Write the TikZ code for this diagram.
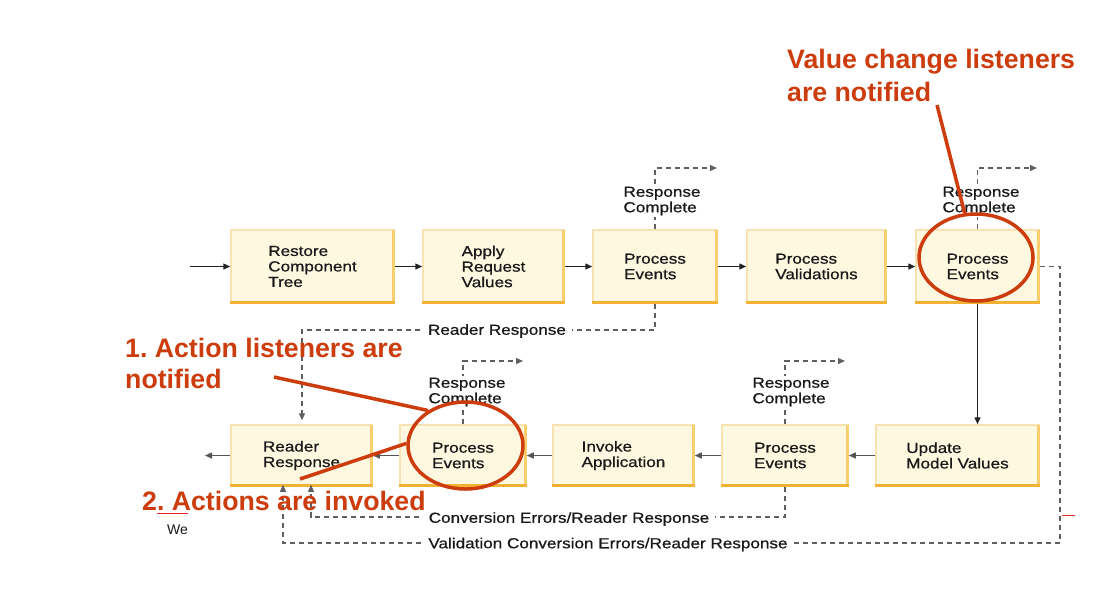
\documentclass[tikz,border=0pt]{standalone}
\usepackage{fontspec}
\setmainfont{Liberation Sans}[FakeStretch=1.18,FakeBold=0.7]
\newfontfamily\annotfont{Liberation Sans}
\frenchspacing
\usetikzlibrary{arrows.meta,shapes.geometric}
\definecolor{boxfill}{RGB}{255,248,225}
\definecolor{boxedge}{RGB}{246,226,178}
\definecolor{boxorange}{RGB}{242,178,51}
\definecolor{boxright}{RGB}{247,207,110}
\definecolor{inkc}{RGB}{25,25,25}
\definecolor{flowc}{RGB}{35,35,35}
\definecolor{flowgray}{RGB}{85,85,85}
\definecolor{dashc}{RGB}{95,95,95}
\definecolor{redc}{RGB}{204,60,12}
\definecolor{spellred}{RGB}{225,40,40}
\newcommand\phasefont{\fontsize{14.5}{15.5}\selectfont}
\newcommand\notefont{\annotfont\bfseries\fontsize{26.7}{32}\selectfont}
\tikzset{
  phase/.style={draw=boxedge, line width=1.5pt, fill=boxfill, inner sep=0pt,
    align=left, font=\phasefont, text=inkc},
  flow/.style={draw=flowc, line width=1.3pt, -{Triangle[length=7pt,width=6pt]}},
  flowb/.style={draw=flowgray, line width=1.3pt, -{Triangle[length=7pt,width=6pt]}},
  dline/.style={draw=dashc, line width=1.3pt, dash pattern=on 5pt off 4pt,
    -{Triangle[length=7pt,width=6pt]}},
  dlabel/.style={fill=white, inner sep=2pt, align=left, font=\phasefont, text=inkc},
  note/.style={anchor=base west, inner sep=0pt, font=\notefont, text=redc},
  ring/.style={draw=redc, line width=3.5pt, ellipse, inner sep=0pt},
  pointer/.style={draw=redc, line width=3.5pt}
}
\begin{document}
\begin{tikzpicture}[x=1pt,y=-1pt]
\useasboundingbox (0,0) rectangle (1116,614);
\fill[white] (0,0) rectangle (1116,614);

% ---------- box positions ----------
\path
  (312.5,266.5) coordinate (prct)
  (493.5,266.5) coordinate (parv)
  (655,266.5)   coordinate (ppe1)
  (816.5,266.5) coordinate (ppv)
  (977.5,266.5) coordinate (ppe2)
  (301.5,455.5) coordinate (prr)
  (463,455.5)   coordinate (ppe3)
  (623.5,455.5) coordinate (pia)
  (785,455.5)   coordinate (ppe4)
  (957.5,455.5) coordinate (pumv);

% ---------- boxes ----------
\node[phase, minimum width=163pt, minimum height=73pt] (rct) at (prct) {Restore\\Component\\Tree};
\node[phase, minimum width=141pt, minimum height=73pt] (arv) at (parv) {Apply\\Request\\Values};
\node[phase, minimum width=124pt, minimum height=73pt] (pe1) at (ppe1) {Process\\Events};
\node[phase, minimum width=139pt, minimum height=73pt] (pv)  at (ppv)  {Process\\Validations};
\node[phase, minimum width=123pt, minimum height=73pt] (pe2) at (ppe2) {Process\\Events};
\node[phase, minimum width=141pt, minimum height=61pt] (rr)  at (prr)  {Reader\\Response};
\node[phase, minimum width=126pt, minimum height=61pt] (pe3) at (ppe3) {Process\\Events};
\node[phase, minimum width=141pt, minimum height=61pt] (ia)  at (pia)  {Invoke\\Application};
\node[phase, minimum width=126pt, minimum height=61pt] (pe4) at (ppe4) {Process\\Events};
\node[phase, minimum width=163pt, minimum height=61pt] (umv) at (pumv) {Update\\Model Values};

\foreach \n in {rct,arv,pe1,pv,pe2,rr,pe3,ia,pe4,umv}{
  \draw[boxright, line width=2.5pt] ([xshift=-1.25pt,yshift=-1pt]\n.north east) -- ([xshift=-1.25pt]\n.south east);
  \draw[boxorange, line width=3pt] ([yshift=1.5pt]\n.south west) -- ([yshift=1.5pt]\n.south east);
}

% ---------- solid flow ----------
\coordinate (entry) at (190,266.5);
\coordinate (exit) at (205,455.5);
\draw[flow] (entry) -- (rct);
\draw[flow] (rct) -- (arv);
\draw[flow] (arv) -- (pe1);
\draw[flow] (pe1) -- (pv);
\draw[flow] (pv) -- (pe2);
\draw[flow] (pe2.south) -- (pe2.south |- umv.north);
\draw[flowb] (umv) -- (pe4);
\draw[flowb] (pe4) -- (ia);
\draw[flowb] (ia) -- (pe3);
\draw[flowb] (pe3) -- (rr);
\draw[flowb] (rr) -- (exit);

% ---------- dashed: response complete ----------
\coordinate (rc1) at (717,168);
\coordinate (rc2) at (1037,168);
\coordinate (rc3) at (523,361);
\coordinate (rc4) at (845,361);
\draw[dline] (pe1.north) |- (rc1);
\draw[dline] (pe2.north) |- (rc2);
\draw[dline] (pe3.north) |- (rc3);
\draw[dline] (pe4.north) |- (rc4);
\node[dlabel] (lrc1) at (662,201) {Response\\Complete};
\node[dlabel] (lrc2) at (981,201) {Response\\Complete};
\node[dlabel] (lrc3) at (467,392) {Response\\Complete};
\node[dlabel] (lrc4) at (791,392) {Response\\Complete};

% ---------- dashed: reader response ----------
\coordinate (rrc) at (302,330);
\draw[dline, shorten >=4pt] (pe1.south) |- (rrc) -- (rrc |- rr.north);
\node[dlabel, inner xsep=6pt] (lrr) at (497,331) {Reader Response};

% ---------- dashed: conversion errors ----------
\coordinate (cec) at (311,517);
\draw[dline, shorten >=-2pt] (pe4.south) |- (cec) -- (cec |- rr.south);
\node[dlabel, inner xsep=6pt] (lce) at (569,519) {Conversion Errors/Reader Response};

% ---------- dashed: validation conversion errors ----------
\coordinate (vc1) at (1060,266.5);
\coordinate (vc2) at (1060,543);
\coordinate (vc3) at (283,543);
\draw[dline, shorten >=-2pt] (pe2.east) -- (vc1) -- (vc2) -- (vc3) -- (vc3 |- rr.south);
\node[dlabel, inner xsep=6pt] (lvc) at (608,544.5) {Validation Conversion Errors/Reader Response};

% ---------- red annotations ----------
\node[note] (n1a) at (787,68) {Value change listeners};
\node[note] (n1b) at (787,101) {are notified};
\node[note] (n2a) at (125,357) {1. Action listeners are};
\node[note] (n2b) at (125,388) {notified};
\node[note] (n3)  at (142,510) {2. Actions are invoked};

\node[ring, minimum width=114pt, minimum height=87pt] (e1) at (976,257.5) {};
\node[ring, minimum width=115pt, minimum height=87pt] (e2) at (465.5,445.5) {};

\coordinate (p1) at (937,105);
\coordinate (p2) at (274,377);
\coordinate (p3) at (300,479);
\draw[pointer] (p1) -- (e1);
\draw[pointer] (p2) -- (e2.137);
\draw[pointer] (p3) -- (e2.178);

% ---------- stray marks ----------
\coordinate (sp1) at (157,513);
\coordinate (sp2) at (188,513);
\draw[spellred, line width=1pt] (sp1) -- (sp2);
\coordinate (sp3) at (1062,515);
\coordinate (sp4) at (1075,515);
\draw[spellred, line width=1pt] (sp3) -- (sp4);
\node[anchor=base west, inner sep=0pt, font=\annotfont\fontsize{14}{16}\selectfont, text=inkc] (we) at (167,534) {We};
\end{tikzpicture}
\end{document}
